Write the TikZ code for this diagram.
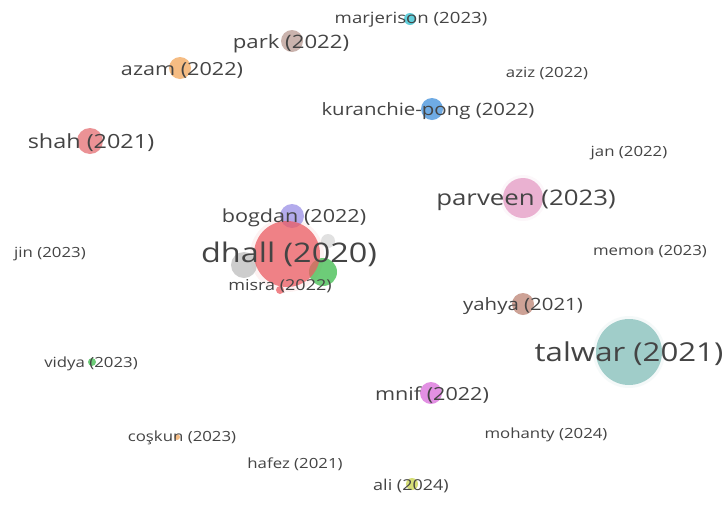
\documentclass[tikz,border=0pt]{standalone}
\usepackage{fontspec}
\setmainfont{Open Sans}[FakeStretch=1.2]
\newcommand{\fsz}[1]{\fontsize{#1pt}{#1pt}\selectfont}
\definecolor{labelgray}{HTML}{444444}
\definecolor{cred}{HTML}{EB5C62}
\definecolor{cpurple}{HTML}{9A8FE6}
\definecolor{cgray}{HTML}{BDBDBD}
\definecolor{cgreen}{HTML}{3DBB4C}
\definecolor{ccyan}{HTML}{2EBFD0}
\definecolor{cbrown}{HTML}{B99A92}
\definecolor{corange}{HTML}{F2A65A}
\definecolor{cblue}{HTML}{3F8FDB}
\definecolor{cshah}{HTML}{E56E72}
\definecolor{cpink}{HTML}{E59AC4}
\definecolor{cyahya}{HTML}{BD8374}
\definecolor{cteal}{HTML}{84BFBA}
\definecolor{cmagenta}{HTML}{D96BDA}
\definecolor{cyell}{HTML}{C9D44A}
\tikzset{
  bub/.style={circle, fill=#1, fill opacity=0.75, draw=none, inner sep=0pt},
  halo/.style={circle, fill=#1, fill opacity=0.08, draw=none, inner sep=0pt},
  lbl/.style={text=labelgray, inner sep=0pt, anchor=center, yshift=-2pt},
}
\begin{document}
\begin{tikzpicture}[x=1pt,y=-1pt]
\useasboundingbox[fill=white] (0,0) rectangle (726,520);
% halos
\node[halo=cred, minimum size=74] (h-dhall) at (287,255) {};
\node[halo=cteal, minimum size=72] (h-talwar) at (629,352) {};
\node[halo=cpink, minimum size=46] (h-parveen) at (523,198) {};
% bubbles
\node[bub=cgray, minimum size=26] (b-gray) at (244,265) {};
\node[bub=cgray, minimum size=14, fill opacity=0.45] (b-gray2) at (328,241) {};
\node[bub=cgreen, minimum size=28] (b-green) at (323,272) {};
\node[bub=cpurple, minimum size=24] (b-bogdan) at (292,216) {};
\node[bub=cred, minimum size=66] (b-dhall) at (287,254) {};
\node[bub=cred, minimum size=8] (b-misra) at (280,290) {};
\node[bub=ccyan, minimum size=12] (b-marjerison) at (410,19) {};
\node[bub=cbrown, minimum size=22] (b-park) at (292,41) {};
\node[bub=corange, minimum size=22] (b-azam) at (180,68) {};
\node[bub=cblue, minimum size=22] (b-kuranchie) at (432,109) {};
\node[bub=cshah, minimum size=26] (b-shah) at (90,141) {};
\node[bub=cpink, minimum size=40] (b-parveen) at (523,198) {};
\node[bub=cgray, minimum size=6] (b-memon) at (651,252) {};
\node[bub=cyahya, minimum size=22] (b-yahya) at (523,304) {};
\node[bub=cteal, minimum size=66] (b-talwar) at (629,352) {};
\node[bub=cgreen, minimum size=8] (b-vidya) at (92,362) {};
\node[bub=cmagenta, minimum size=22] (b-mnif) at (431,393) {};
\node[bub=corange, minimum size=6] (b-coskun) at (177,437) {};
\node[bub=cyell, minimum size=12] (b-ali) at (412,484) {};
% labels
\node[lbl, font=\fsz{15.5}] (marjerison) at (411,18) {marjerison (2023)};
\node[lbl, font=\fsz{18.5}] (park) at (291,42) {park (2022)};
\node[lbl, font=\fsz{18}] (azam) at (182,68) {azam (2022)};
\node[lbl, font=\fsz{14}] (aziz) at (547,71) {aziz (2022)};
\node[lbl, font=\fsz{17}] (kuranchie) at (428,109) {kuranchie-pong (2022)};
\node[lbl, font=\fsz{19.5}] (shah) at (91,141) {shah (2021)};
\node[lbl, font=\fsz{14}] (jan) at (629,151) {jan (2022)};
\node[lbl, font=\fsz{21.5}] (parveen) at (526,198) {parveen (2023)};
\node[lbl, font=\fsz{18}] (bogdan) at (294,216) {bogdan (2022)};
\node[lbl, font=\fsz{27}] (dhall) at (289,252) {dhall (2020)};
\node[lbl, font=\fsz{14}] (jin) at (50,252) {jin (2023)};
\node[lbl, font=\fsz{14}] (memon) at (650,250) {memon (2023)};
\node[lbl, font=\fsz{15}] (misra) at (280,284) {misra (2022)};
\node[lbl, font=\fsz{17}] (yahya) at (523,304) {yahya (2021)};
\node[lbl, font=\fsz{26}] (talwar) at (629,352) {talwar (2021)};
\node[lbl, font=\fsz{14}] (vidya) at (91,362) {vidya (2023)};
\node[lbl, font=\fsz{18}] (mnif) at (432,393) {mnif (2022)};
\node[lbl, font=\fsz{14}] (mohanty) at (546,433) {mohanty (2024)};
\node[lbl, font=\fsz{14}] (coskun) at (182,436) {coşkun (2023)};
\node[lbl, font=\fsz{14}] (hafez) at (295,462) {hafez (2021)};
\node[lbl, font=\fsz{15}] (ali) at (411,484) {ali (2024)};
\end{tikzpicture}
\end{document}
